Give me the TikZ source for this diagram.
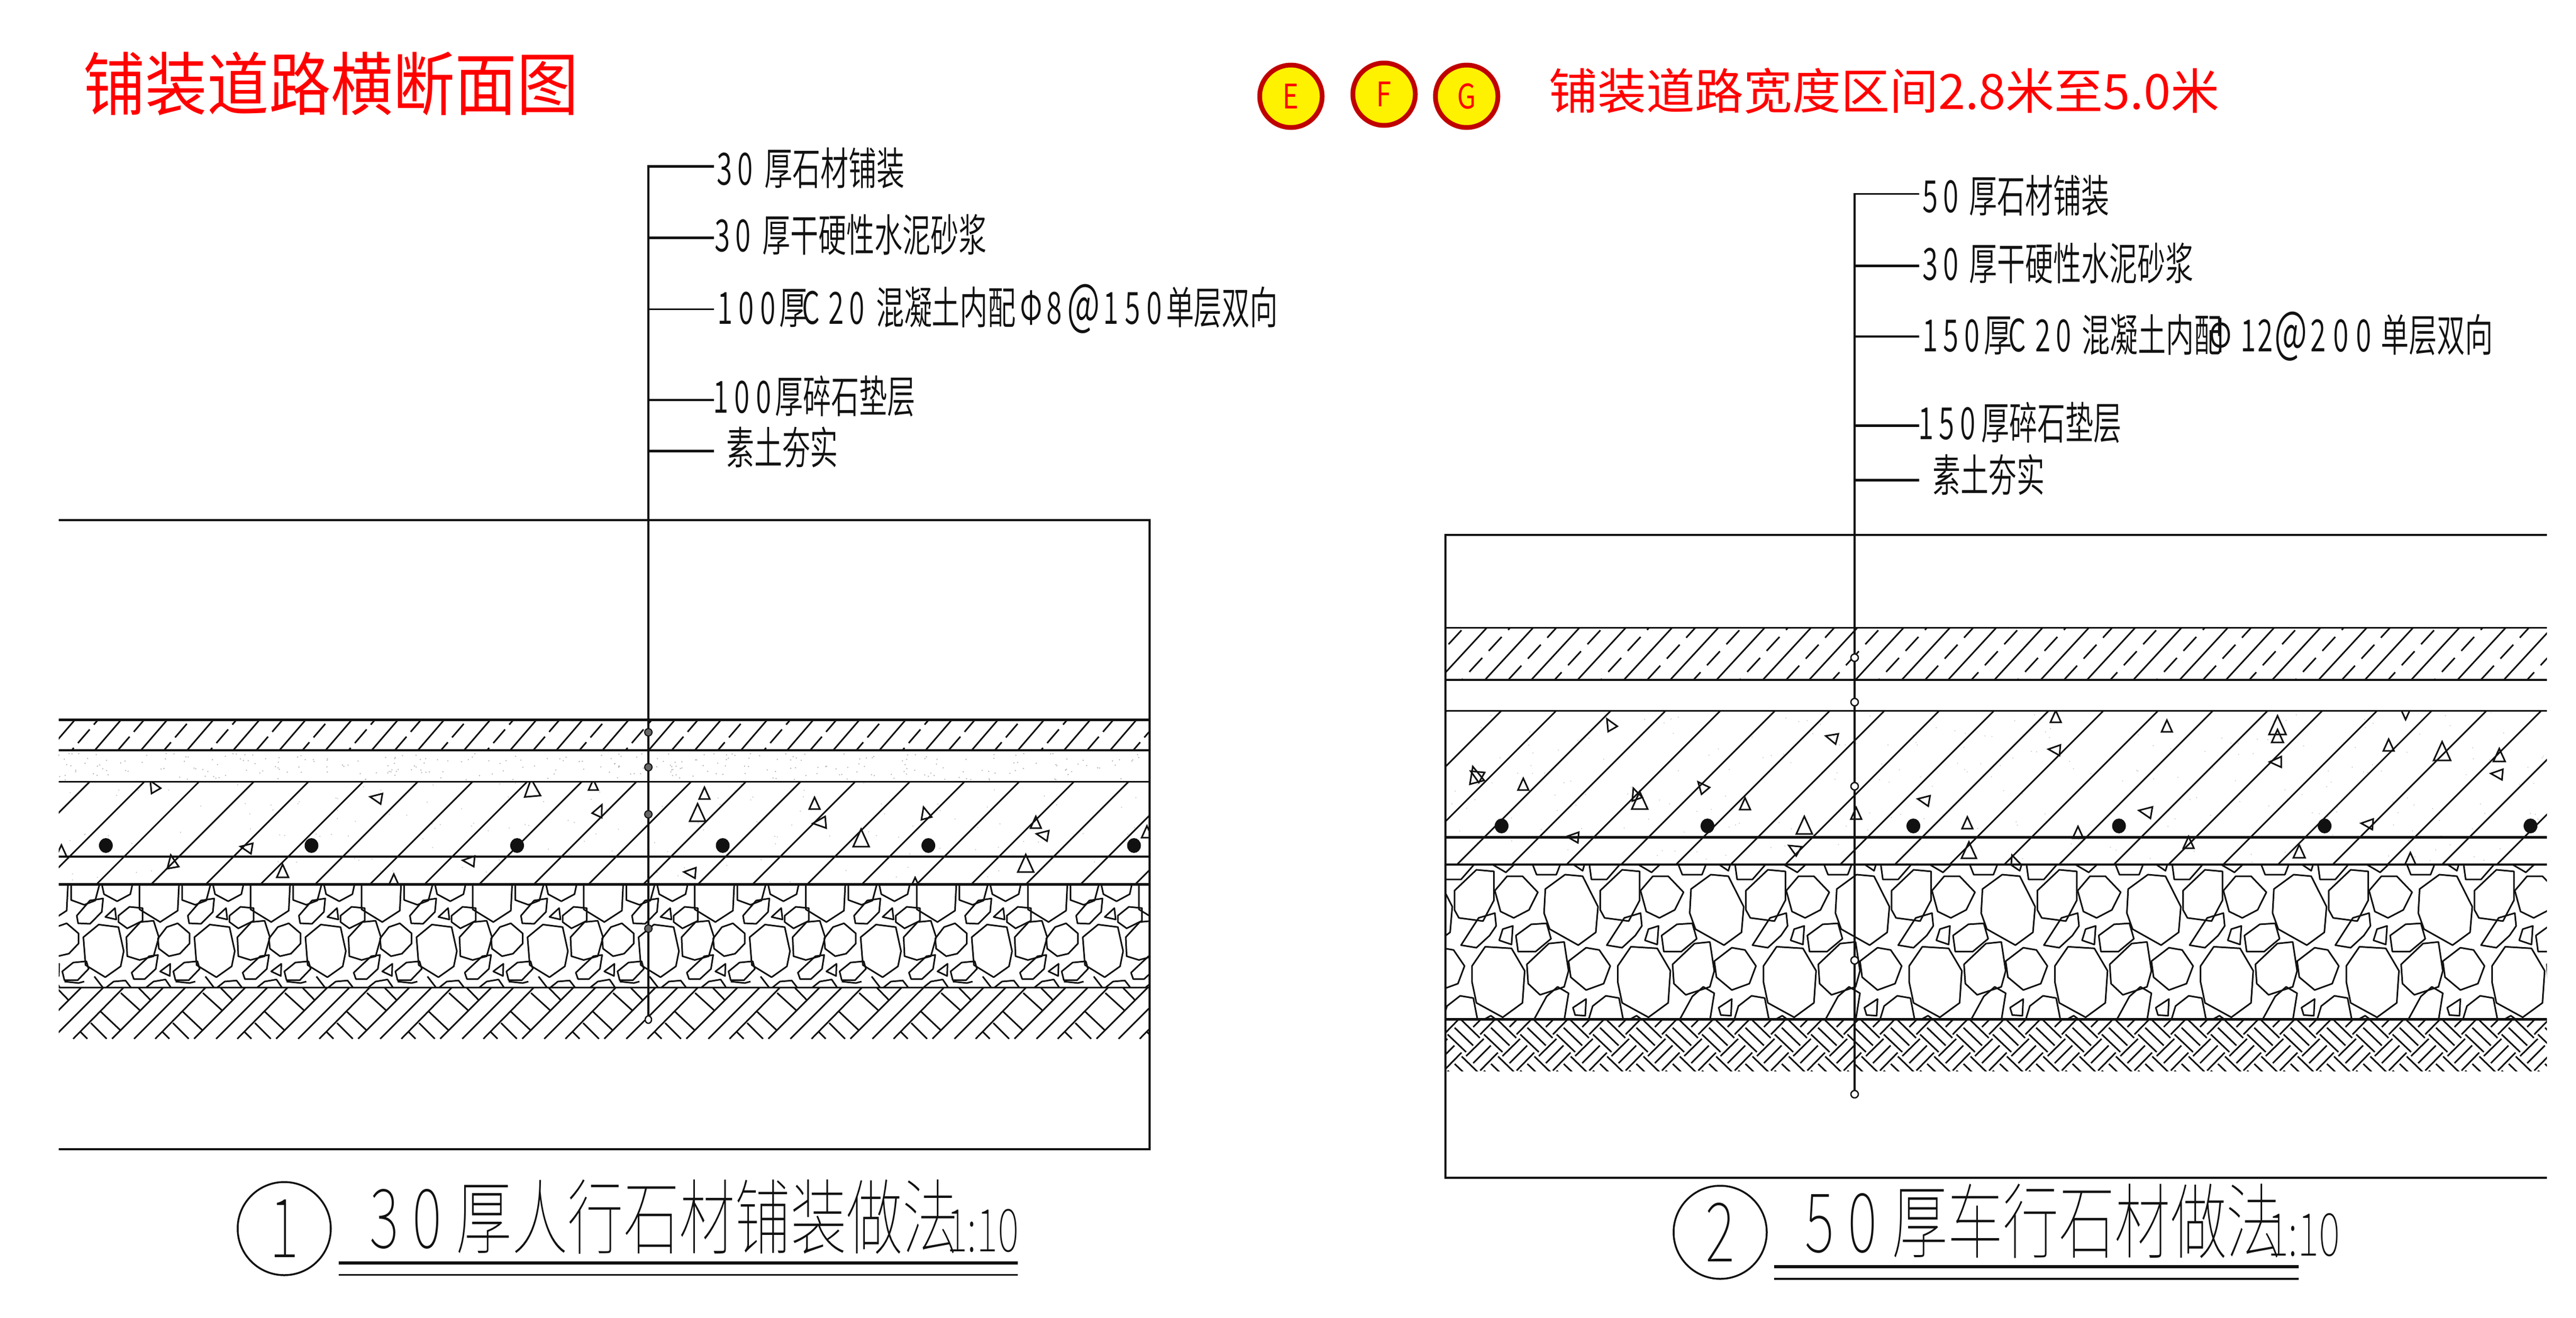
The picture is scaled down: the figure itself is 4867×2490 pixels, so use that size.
\documentclass[tikz,border=0pt]{standalone}
\usepackage{fontspec}
\setmainfont{Noto Sans CJK SC}
\newfontfamily\cad[FakeStretch=.63,UprightFont=* DemiLight]{Noto Sans CJK SC}
\newfontfamily\ttl[FakeStretch=.68,UprightFont=* Thin]{Noto Sans CJK SC}
\newfontfamily\reda[FakeStretch=.9]{Noto Sans CJK SC}
\newfontfamily\redb{Noto Sans CJK SC}
\newfontfamily\redc[FakeStretch=.8]{Noto Sans CJK SC}
\newcommand\fsl{\fontsize{84}{84}\selectfont}
\newcommand\fst{\fontsize{155}{155}\selectfont}
\newcommand\fss{\fontsize{112}{112}\selectfont}
\newcommand\bigat{{\fontsize{105}{105}\selectfont @}}
\definecolor{ink}{HTML}{111111}
\tikzset{
  lab/.style={anchor=west,inner sep=0pt,text=ink,font=\cad\fsl},
  big/.style={anchor=west,inner sep=0pt,text=ink,font=\ttl\fst},
  scale10/.style={anchor=east,inner sep=0pt,text=ink,font=\ttl\fss},
  rnum/.style={circle,draw=ink,line width=3.5pt,inner sep=0pt,minimum size=176pt,font=\ttl\fst,text=ink},
  badge/.style={circle,draw={rgb,255:red,192;green,0;blue,0},line width=9pt,fill=yellow,inner sep=0pt,minimum size=118pt,text=red,font=\redc\fontsize{64}{64}\selectfont},
  redt/.style={anchor=west,inner sep=0pt,text=red},
  hatch/.style={ink,line width=3pt},
  stone/.style={ink,line width=3pt,line join=round},
  tri/.style={ink,line width=3pt,line join=miter},
  lead/.style={ink,line width=4pt},
}
\begin{document}
\begin{tikzpicture}[x=1pt,y=-1pt]
\useasboundingbox (0,0) rectangle (4867,2490);
\fill[white] (0,0) rectangle (4867,2490);
% ---------- titles
\node[redt,font=\reda\fontsize{130}{130}\selectfont] (t1) at (157,158) {铺装道路横断面图};
\node[badge] (e) at (2439,182) {E};
\node[badge] (f) at (2615,178) {F};
\node[badge] (g) at (2771,182) {G};
\node[redt,font=\redb\fontsize{92}{92}\selectfont] (t2) at (2926,172) {铺装道路宽度区间2.8米至5.0米};
% ---------- LEFT section
\begin{scope}
\clip (111,1360) rectangle (2172,1418);
\foreach \k in {-14,...,12}{
  \pgfmathsetmacro\bx{1225.5+87.2*\k}
  \draw[hatch] (\bx,1418) -- ({\bx+50},1360);
  \pgfmathsetmacro\ph{mod(\k+30,3)*14}
  \draw[hatch,dash pattern=on 34pt off 12pt,dash phase=\ph pt] ({\bx+43.6},1418) -- ({\bx+93.6},1360);
}
\end{scope}
\pgfmathsetseed{11}
\foreach \n in {1,...,300}{
  \pgfmathsetmacro\px{111+rnd*2059}\pgfmathsetmacro\py{1424+rnd*50}
  \fill[gray!60] (\px,\py) circle (1.3pt);
}
\foreach \n in {1,...,150}{
  \pgfmathsetmacro\px{111+rnd*2059}\pgfmathsetmacro\py{1480+rnd*188}
  \fill[gray!45] (\px,\py) circle (1.2pt);
}
\begin{scope}
\clip (111,1477) rectangle (2172,1671);
\foreach \k in {-1,...,22}{
  \pgfmathsetmacro\bx{170+103.3*\k}
  \draw[hatch] (\bx,1477) -- ({\bx-194},1671);
}
\foreach \x/\y/\r/\s in {290/1486/30/20,711/1508/80/20,1005/1490/5/30,1121/1484/0/18,1132/1532/-25/20,116/1609/0/20,466/1602/80/20,325/1629/10/22,534/1647/0/22,886/1627/85/20,744/1664/0/20,1331/1500/0/20,1318/1537/0/30,1539/1519/0/20,1549/1555/95/22,1627/1585/0/30,1748/1537/15/20,1957/1555/0/20,1970/1578/80/20,2167/1573/0/20,1304/1649/85/20,1938/1633/0/30,1729/1667/0/14}
  \draw[tri,shift={(\x,\y)},rotate=\r] (-0.5*\s,0.5*\s) -- (0.5*\s,0.5*\s) -- (0,-0.6*\s) -- cycle;
\end{scope}
\foreach \x in {200,588.5,977,1365.5,1754,2142.5}
  \fill[ink] (\x,1598) ellipse (13pt and 14pt);
% gravel left
\begin{scope}
\clip (111,1671) rectangle (2172,1866);
\foreach \i in {-1,...,10}{
\begin{scope}[shift={(\i*209.8,1300)},x=.829pt,y=-.4785pt]
\draw[stone] (318,775)--(318,875)--(365,925)--(405,880)--(408,775);
\draw[stone] (162,775)--(162,838)--(192,857)--(217,840)--(227,775);
\draw[stone] (232,775)--(237,815)--(267,843)--(297,815)--(302,775);
\draw[stone] (175,900)--(205,840)--(235,832)--(232,885)--(205,932)--(178,930)--cycle;
\draw[stone] (262,870)--(265,915)--(240,905)--cycle;
\draw[stone] (270,900)--(295,865)--(325,870)--(325,920)--(290,950)--(270,925)--cycle;
\draw[stone] (190,985)--(225,935)--(270,945)--(282,1040)--(275,1100)--(240,1143)--(195,1095)--cycle;
\draw[stone] (288,985)--(320,925)--(350,920)--(362,985)--(350,1060)--(318,1075)--(290,1060)--cycle;
\draw[stone] (360,990)--(380,945)--(405,930)--(432,970)--(432,1010)--(410,1050)--(385,1060)--(362,1030)--cycle;
\draw[stone] (300,1125)--(340,1060)--(360,1055)--(355,1110)--(330,1150)--(305,1150)--cycle;
\draw[stone] (388,1090)--(387,1138)--(365,1120)--cycle;
\draw[stone] (395,1120)--(420,1085)--(450,1080)--(455,1110)--(430,1155)--(400,1155)--cycle;
\draw[stone] (241,1185)--(259,1160)--(286,1156)--(299,1185);
\draw[stone] (332,1185)--(350,1160)--(377,1152)--(390,1185);
\draw[stone] (215,1140)--(235,1185);
\draw[stone] (400,1160)--(432,1166)--(445,1160);
\end{scope}}
\end{scope}
% ground hatch left
\begin{scope}
\clip (111,1866) rectangle (2172,1963);
\foreach \i in {-2,...,13}{
\begin{scope}[shift={(100+\i*155,1850)},x=.3333pt,y=-.3333pt]
\draw[hatch] (460,340)--(755,45) (580,340)--(870,45) (800,340)--(1095,45);
\draw[hatch] (620,300)--(660,340) (680,250)--(770,340) (735,185)--(848,292) (850,80)--(960,180) (945,45)--(1018,120);
\end{scope}}
\end{scope}
\foreach \y/\w in {1360/5,1418/4,1477/3,1619/4,1671/5,1866/3}
  \draw[ink,line width=\w pt] (111,\y) -- (2172,\y);
\draw[ink,line width=4pt] (111,983) -- (2172,983) -- (2172,2172) -- (111,2172);
\draw[lead] (1225,1920) -- (1225,314);
\foreach \y/\w in {314/5,449/5,584/3,756/4,852/5}
  \draw[ink,line width=\w pt] (1223,\y) -- (1349,\y);
\foreach \y in {1384,1450,1539,1755}
  \filldraw[draw=ink,fill=black!60,line width=2pt] (1225,\y) circle (7pt);
\draw[ink,line width=2.5pt,fill=white] (1225,1927) ellipse (6pt and 7pt);
\node[lab] (a1) at (1354,318) {3\kern10.6pt 0\kern22pt 厚石材铺装};
\node[lab] (a2) at (1350,443) {3\kern10.6pt 0\kern22pt 厚干硬性水泥砂浆};
\node[lab] (a3) at (1355,584) {1\kern11.6pt 0\kern11.6pt 0\kern7pt 厚\kern-10pt C\kern17pt 2\kern9pt 0\kern22pt 混凝土内配\kern8pt Φ\kern8pt 8\kern10pt \bigat\kern6pt 1\kern11.6pt 5\kern11.6pt 0\kern8pt 单层双向};
\node[lab] (a4) at (1347,749) {1\kern11.6pt 0\kern11.6pt 0\kern7pt 厚碎石垫层};
\node[lab] (a5) at (1372,845) {素土夯实};
\node[rnum] (n1) at (537,2322) {1};
\node[big] (b1) at (698,2300) {3\kern26pt 0\kern28pt 厚人行石材铺装做法};
\node[scale10] (s1) at (1925,2326) {1:10};
\draw[ink,line width=6pt] (640,2387) -- (1923,2387);
\draw[ink,line width=3pt] (640,2409) -- (1923,2409);
% ---------- RIGHT section
\begin{scope}
\clip (2731,1186) rectangle (4812,1284.5);
\foreach \k in {-2,...,24}{
  \pgfmathsetmacro\bx{2806+87.5*\k}
  \draw[hatch] (\bx,1284.5) -- ({\bx+91},1186);
  \pgfmathsetmacro\ph{mod(\k+30,3)*17}
  \draw[hatch,dash pattern=on 36pt off 18pt,dash phase=\ph pt] ({\bx+44},1284.5) -- ({\bx+135},1186);
}
\end{scope}
\foreach \n in {1,...,260}{
  \pgfmathsetmacro\px{2731+rnd*2080}\pgfmathsetmacro\py{1346+rnd*286}
  \fill[gray!40] (\px,\py) circle (1.2pt);
}
\begin{scope}
\clip (2731,1343) rectangle (4812,1634);
\foreach \k in {-1,...,23}{
  \pgfmathsetmacro\bx{2837+103.4*\k}
  \draw[hatch] (\bx,1343) -- ({\bx-291},1634);
}
\foreach \x/\y/\r/\s in {3042/1369/30/20,3461/1394/75/20,2787/1465/15/28,2790/1464/60/22,2878/1483/0/20,3090/1501/20/20,3098/1514/0/30,3216/1487/40/20,3297/1520/0/20,3409/1561/0/30,3507/1538/0/20,3635/1512/80/20,3717/1556/0/20,3720/1608/0/28,3807/1632/20/28,3926/1574/0/20,2972/1582/85/20,3390/1604/60/20,3884/1355/0/20,3882/1417/85/20,4094/1373/0/20,4303/1372/0/32,4303/1392/0/22,4300/1440/90/20,4545/1348/180/20,4513/1409/0/20,4614/1421/0/32,4722/1428/0/22,4718/1463/85/20,4054/1534/80/22,4473/1557/85/20,4135/1593/0/20,4344/1610/0/22,4554/1627/0/26}
  \draw[tri,shift={(\x,\y)},rotate=\r] (-0.5*\s,0.5*\s) -- (0.5*\s,0.5*\s) -- (0,-0.6*\s) -- cycle;
\end{scope}
\foreach \x in {2837,3226,3615,4003.5,4392,4781}
  \fill[ink] (\x,1561) ellipse (13pt and 14pt);
% gravel right
\begin{scope}
\clip (2731,1634) rectangle (4812,1926);
\foreach \i in {-3,...,8}{
\begin{scope}[shift={(2700+\i*275.3,1150)},x=.829pt,y=-.606pt]
\draw[stone] (140,795)--(175,823)--(197,795);
\draw[stone] (235,795)--(245,830)--(290,830)--(300,795);
\draw[stone] (325,795)--(350,818)--(355,795);
\draw[stone] (365,795)--(370,845)--(405,845)--(437,795);
\draw[stone] (265,875)--(310,830)--(350,835)--(385,930)--(380,1010)--(340,1050)--(275,1000)--(262,950)--cycle;
\draw[stone] (390,880)--(440,815)--(480,820)--(480,910)--(455,975)--(400,965)--(390,940)--cycle;
\draw[stone] (482,880)--(510,835)--(545,835)--(580,885)--(560,940)--(525,965)--(495,945)--cycle;
\draw[stone] (405,1050)--(445,965)--(482,950)--(485,990)--(470,1020)--(440,1058)--cycle;
\draw[stone] (500,1000)--(523,990)--(520,1048)--(492,1035)--cycle;
\draw[stone] (530,1020)--(565,985)--(600,982)--(610,1030)--(575,1070)--(535,1070)--cycle;
\draw[stone] (430,1115)--(460,1055)--(520,1060)--(550,1130)--(545,1230)--(500,1275)--(440,1230)--(430,1165)--cycle;
\draw[stone] (555,1110)--(605,1045)--(640,1040)--(650,1130)--(640,1180)--(585,1205)--(558,1170)--cycle;
\draw[stone] (650,1100)--(690,1058)--(720,1065)--(745,1115)--(730,1170)--(690,1190)--(655,1150)--cycle;
\draw[stone] (570,1285)--(600,1210)--(625,1180)--(650,1200)--(640,1285);
\draw[stone] (660,1245)--(690,1218)--(688,1270)--(665,1268)--cycle;
\draw[stone] (695,1285)--(705,1240)--(735,1208)--(765,1215)--(775,1285);
\draw[stone] (785,1285)--(805,1270)--(820,1285);
\end{scope}}
\end{scope}
% ground weave right
\begin{scope}
\clip (2731,1926) rectangle (4812,2024);
\foreach \i in {-2,...,31}{
 \foreach \j in {-1,0,1}{
\begin{scope}[shift={(2720+\i*68.67,1910+\j*68.33)},x=.3333pt,y=-.3333pt]
\draw[hatch] (125,55)--(228,155) (85,97)--(190,198) (45,135)--(150,235);
\draw[hatch] (150,258)--(250,160) (190,298)--(290,198) (230,340)--(330,238);
\end{scope}}}
\end{scope}
\foreach \y/\w in {1186/3,1284.5/4,1343/3,1582/5,1634/4,1926/5}
  \draw[ink,line width=\w pt] (2731,\y) -- (4812,\y);
\draw[ink,line width=4pt] (4812,1011) -- (2731,1011) -- (2731,2226) -- (4812,2226);
\draw[ink,line width=3.5pt] (3504,366) -- (3504,2060);
\foreach \y/\w in {366/3,502/5,636/4,804/5,907/5}
  \draw[ink,line width=\w pt] (3502,\y) -- (3626,\y);
\foreach \y in {1243,1327,1486,1815}
  \draw[ink,line width=2.5pt,fill=white] (3504,\y) circle (7pt);
\draw[ink,line width=2.5pt,fill=white] (3504,2068) circle (7pt);
\node[lab] (c1) at (3632,370) {5\kern10.6pt 0\kern20pt 厚石材铺装};
\node[lab] (c2) at (3632,497) {3\kern10.6pt 0\kern20pt 厚干硬性水泥砂浆};
\node[lab] (c3) at (3632,636) {1\kern10.6pt 5\kern10.6pt 0\kern8pt 厚\kern-7pt C\kern17pt 2\kern10.6pt 0\kern20pt 混凝土内配\kern-24pt Φ\kern17pt 1\kern3pt 2\kern3pt \bigat\kern6pt 2\kern14pt 0\kern14pt 0\kern18pt 单层双向};
\node[lab] (c4) at (3624,799) {1\kern10.6pt 5\kern10.6pt 0\kern11pt 厚碎石垫层};
\node[lab] (c5) at (3651,897) {素土夯实};
\node[rnum] (n2) at (3250,2329) {2};
\node[big] (b2) at (3410,2308) {5\kern26pt 0\kern28pt 厚车行石材做法};
\node[scale10] (s2) at (4421,2334) {1:10};
\draw[ink,line width=6pt] (3352,2394) -- (4343,2394);
\draw[ink,line width=4pt] (3352,2417) -- (4343,2417);
\end{tikzpicture}
\end{document}
